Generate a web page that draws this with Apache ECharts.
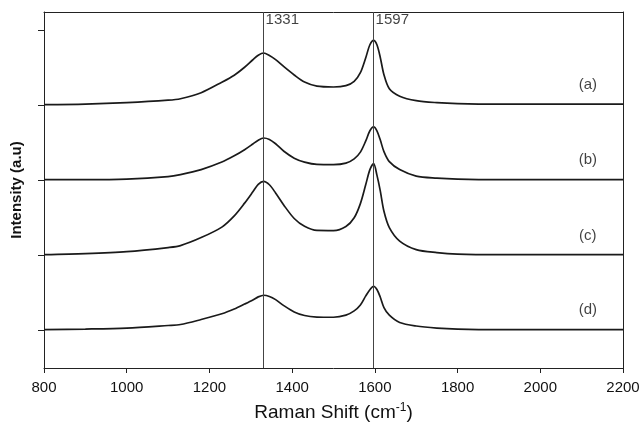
<!DOCTYPE html>
<html>
<head>
<meta charset="utf-8">
<script src="https://cdn.jsdelivr.net/npm/echarts@6/dist/echarts.min.js"></script>
<style>
html,body{margin:0;padding:0;background:#fff;}
#chart{width:640px;height:422px;}
</style>
</head>
<body>
<div id="chart"></div>
<script>
// Raman shift (cm^-1)
const wavenumbers = [800, 900, 1000, 1100, 1130, 1180, 1230, 1260, 1285, 1305, 1318, 1331, 1345, 1360, 1380, 1405, 1430, 1460, 1500, 1530, 1550, 1565, 1578, 1588, 1597, 1605, 1613, 1622, 1635, 1660, 1700, 1750, 1800, 1900, 2000, 2100, 2200];
// Intensity (a.u.), spectra stacked with offsets as in the figure
const curveA = [3.013, 3.020, 3.040, 3.073, 3.093, 3.173, 3.313, 3.407, 3.513, 3.613, 3.673, 3.703, 3.670, 3.615, 3.520, 3.410, 3.315, 3.260, 3.249, 3.267, 3.325, 3.440, 3.640, 3.813, 3.871, 3.813, 3.647, 3.413, 3.227, 3.127, 3.067, 3.040, 3.027, 3.020, 3.020, 3.020, 3.020];
const curveB = [2.013, 2.013, 2.020, 2.053, 2.080, 2.147, 2.248, 2.331, 2.413, 2.489, 2.540, 2.569, 2.550, 2.492, 2.392, 2.300, 2.247, 2.216, 2.213, 2.233, 2.290, 2.380, 2.530, 2.665, 2.716, 2.665, 2.545, 2.387, 2.253, 2.147, 2.060, 2.033, 2.020, 2.013, 2.013, 2.013, 2.013];
const curveC = [1.013, 1.027, 1.053, 1.107, 1.133, 1.240, 1.380, 1.530, 1.700, 1.850, 1.950, 1.991, 1.945, 1.835, 1.672, 1.495, 1.390, 1.335, 1.333, 1.387, 1.504, 1.693, 1.947, 2.147, 2.227, 2.073, 1.867, 1.591, 1.373, 1.193, 1.080, 1.040, 1.020, 1.013, 1.013, 1.013, 1.013];
const curveD = [0.013, 0.020, 0.033, 0.067, 0.080, 0.147, 0.223, 0.287, 0.353, 0.408, 0.449, 0.471, 0.455, 0.412, 0.332, 0.248, 0.200, 0.180, 0.177, 0.205, 0.262, 0.340, 0.462, 0.545, 0.591, 0.548, 0.448, 0.307, 0.205, 0.107, 0.060, 0.033, 0.020, 0.013, 0.013, 0.013, 0.013];
const curveNames = ['(a)', '(b)', '(c)', '(d)'];
const peakLines = [1331, 1597];
const xTicks = [800, 1000, 1200, 1400, 1600, 1800, 2000, 2200];
const yTicks = [0, 1, 2, 3, 4];

const curves = [curveA, curveB, curveC, curveD];
const labelY = [3.28, 2.28, 1.267, 0.28];
const font = '"Liberation Sans", Arial, sans-serif';

const chart = echarts.init(document.getElementById('chart'), null, {renderer: 'canvas'});

const series = curves.map((c, i) => ({
  type: 'line',
  name: curveNames[i],
  data: wavenumbers.map((x, j) => [x, c[j]]),
  showSymbol: false,
  smooth: 0.3,
  lineStyle: {color: '#1a1a1a', width: 1.7},
  silent: true,
  z: 3,
  markLine: i === 0 ? {
    silent: true,
    symbol: ['none', 'none'],
    label: {show: false},
    lineStyle: {color: '#444', width: 1, type: 'solid'},
    data: peakLines.map(p => ({xAxis: p}))
  } : undefined
}));

series.push({
  type: 'scatter',
  symbolSize: 0,
  silent: true,
  data: curveNames.map((n, i) => ({value: [2115, labelY[i]], name: n})),
  label: {show: true, position: 'inside', formatter: p => p.name, color: '#111', fontSize: 15, fontFamily: font}
});
series.push({
  type: 'scatter',
  symbolSize: 0,
  silent: true,
  data: peakLines.map(p => ({value: [p, 4.147], name: String(p)})),
  label: {show: true, position: 'right', distance: 2, formatter: p => p.name, color: '#111', fontSize: 15, fontFamily: font}
});

const plainAxis = {show: true, lineStyle: {color: '#222', width: 1}, onZero: false};

chart.setOption({
  animation: false,
  backgroundColor: '#fff',
  grid: {left: 44, right: 17, top: 12, height: 356, containLabel: false, outerBoundsMode: 'none'},
  xAxis: [{
    type: 'value', min: 800, max: 2200, interval: 200,
    name: '{a|Raman Shift (cm}{s|-1}{a|)}',
    nameLocation: 'middle', nameGap: 34,
    nameTextStyle: {rich: {
      a: {fontSize: 19, fontFamily: font, color: '#111'},
      s: {fontSize: 12, fontFamily: font, color: '#111', verticalAlign: 'top', padding: [0, 0, 9, 0]}
    }},
    axisLine: plainAxis,
    axisTick: {show: true, inside: false, length: 5, lineStyle: {color: '#222'}},
    axisLabel: {color: '#111', fontSize: 15, fontFamily: font, margin: 12,
      formatter: v => xTicks.includes(v) ? String(v) : ''},
    splitLine: {show: false}
  }, {
    type: 'value', position: 'top', min: 800, max: 2200,
    axisLine: plainAxis, axisTick: {show: false}, axisLabel: {show: false}, splitLine: {show: false}
  }],
  yAxis: [{
    type: 'value', min: -0.5, max: 4.25,
    name: 'Intensity (a.u)',
    nameLocation: 'middle', nameGap: 20,
    nameTextStyle: {fontSize: 15, fontFamily: font, color: '#111', fontWeight: 'bold'},
    axisLine: plainAxis,
    axisTick: {show: true, inside: false, length: 6, customValues: yTicks, lineStyle: {color: '#222'}},
    axisLabel: {show: false},
    splitLine: {show: false}
  }, {
    type: 'value', position: 'right', min: -0.5, max: 4.25,
    axisLine: plainAxis, axisTick: {show: false}, axisLabel: {show: false}, splitLine: {show: false}
  }],
  series: series
});
</script>
</body>
</html>
